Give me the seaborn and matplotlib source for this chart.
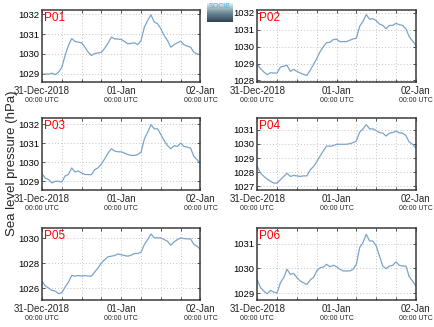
import numpy as np
import pandas as pd
import matplotlib
matplotlib.use("Agg")
import matplotlib.pyplot as plt
import seaborn as sns

# ---- data (hourly, 31-Dec-2018 00:00 UTC to 02-Jan 00:00 UTC) ----
hours = list(range(49))
stations = ["P01", "P02", "P03", "P04", "P05", "P06"]

p01 = [1028.97, 1028.98, 1028.97, 1029.02, 1028.95, 1029.07, 1029.32, 1029.92, 1030.42, 1030.78,
       1030.63, 1030.59, 1030.56, 1030.34, 1030.08, 1029.92, 1030.02, 1030.05, 1030.08, 1030.29,
       1030.54, 1030.85, 1030.76, 1030.75, 1030.73, 1030.63, 1030.51, 1030.53, 1030.56, 1030.47,
       1030.68, 1031.36, 1031.69, 1031.98, 1031.61, 1031.53, 1031.27, 1030.93, 1030.68, 1030.34,
       1030.46, 1030.56, 1030.64, 1030.46, 1030.39, 1030.34, 1030.08, 1030.00, 1029.95]
p02 = [1028.94, 1028.70, 1028.50, 1028.34, 1028.46, 1028.44, 1028.44, 1028.80, 1028.84, 1028.90,
       1028.54, 1028.66, 1028.54, 1028.44, 1028.36, 1028.30, 1028.60, 1028.94, 1029.30, 1029.70,
       1030.00, 1030.24, 1030.26, 1030.42, 1030.44, 1030.30, 1030.30, 1030.30, 1030.38, 1030.46,
       1030.50, 1031.20, 1031.50, 1031.90, 1031.62, 1031.66, 1031.54, 1031.34, 1031.26, 1031.06,
       1031.26, 1031.26, 1031.38, 1031.30, 1031.26, 1031.06, 1030.60, 1030.34, 1030.10]
p03 = [1029.40, 1029.17, 1029.09, 1028.91, 1029.00, 1029.00, 1028.96, 1029.28, 1029.36, 1029.70,
       1029.49, 1029.54, 1029.43, 1029.36, 1029.35, 1029.35, 1029.61, 1029.71, 1029.92, 1030.18,
       1030.48, 1030.71, 1030.59, 1030.55, 1030.55, 1030.48, 1030.41, 1030.36, 1030.36, 1030.41,
       1030.53, 1031.23, 1031.58, 1031.98, 1031.76, 1031.76, 1031.46, 1031.14, 1030.88, 1030.71,
       1030.87, 1030.83, 1031.01, 1030.83, 1030.80, 1030.74, 1030.31, 1030.13, 1029.92]
p04 = [1028.40, 1027.93, 1027.70, 1027.51, 1027.35, 1027.23, 1027.23, 1027.47, 1027.70, 1027.93,
       1027.70, 1027.77, 1027.74, 1027.70, 1027.74, 1027.74, 1028.16, 1028.40, 1028.74, 1029.14,
       1029.51, 1029.86, 1029.84, 1029.88, 1029.98, 1029.98, 1029.98, 1029.98, 1030.02, 1030.09,
       1030.21, 1030.84, 1031.07, 1031.37, 1031.07, 1031.07, 1030.95, 1030.81, 1030.77, 1030.56,
       1030.77, 1030.81, 1030.91, 1030.79, 1030.77, 1030.60, 1030.14, 1029.98, 1029.72]
p05 = [1026.58, 1026.19, 1026.03, 1025.84, 1025.79, 1025.58, 1025.66, 1026.11, 1026.50, 1027.03,
       1026.98, 1027.03, 1026.98, 1027.03, 1026.98, 1026.98, 1027.32, 1027.64, 1028.04, 1028.30,
       1028.52, 1028.57, 1028.62, 1028.75, 1028.68, 1028.62, 1028.57, 1028.65, 1028.78, 1028.78,
       1028.89, 1029.50, 1029.89, 1030.34, 1030.03, 1030.03, 1030.03, 1029.89, 1029.76, 1029.44,
       1029.71, 1029.89, 1030.03, 1029.97, 1029.95, 1029.95, 1029.50, 1029.36, 1029.10]
p06 = [1029.53, 1029.22, 1029.08, 1028.97, 1029.11, 1029.04, 1029.01, 1029.42, 1029.63, 1029.97,
       1029.76, 1029.80, 1029.63, 1029.49, 1029.42, 1029.35, 1029.53, 1029.63, 1029.90, 1030.03,
       1030.06, 1030.17, 1030.07, 1030.13, 1030.07, 1029.97, 1029.90, 1029.90, 1029.90, 1029.97,
       1030.17, 1030.85, 1031.05, 1031.39, 1031.12, 1031.12, 1030.92, 1030.51, 1030.10, 1029.99,
       1030.10, 1030.13, 1030.27, 1030.13, 1030.10, 1030.10, 1029.67, 1029.49, 1029.29]
series = [p01, p02, p03, p04, p05, p06]

y_limits = [(1028.6, 1032.25), (1027.94, 1032.2), (1028.54, 1032.33),
            (1026.74, 1031.84), (1025.1, 1030.84), (1028.73, 1031.66)]
y_ticks = [[1029, 1030, 1031, 1032], [1028, 1029, 1030, 1031, 1032],
           [1029, 1030, 1031, 1032], [1027, 1028, 1029, 1030, 1031],
           [1026, 1028, 1030], [1029, 1030, 1031]]
x_tick_hours = [0, 24, 48]
x_tick_labels = ["31-Dec-2018", "01-Jan", "02-Jan"]
x_sub_label = "00:00 UTC"
minor_hours = list(range(0, 49, 6))

# ---- style ----
sns.set_style("white")
plt.rcParams["font.family"] = ["Liberation Sans", "DejaVu Sans"]

W, H = 435, 327
fig = plt.figure(figsize=(W / 100, H / 100), dpi=100)

lefts = [42, 257.3]
tops = [9.5, 118, 227.7]
aw, ah = 158.5, 72

line_color = "#7aa4cb"
spine_color = "#3a3a3a"

for i, (name, vals) in enumerate(zip(stations, series)):
    r, c = divmod(i, 2)
    l = lefts[c]
    t = tops[r]
    ax = fig.add_axes([l / W, 1 - (t + ah) / H, aw / W, ah / H])
    df = pd.DataFrame({"hour": hours, "slp": vals})
    sns.lineplot(data=df, x="hour", y="slp", ax=ax, color=line_color, lw=0.9)
    ax.set_xlim(0, 48)
    ax.set_ylim(*y_limits[i])
    ax.set_yticks(y_ticks[i])
    ax.set_yticklabels([str(v) for v in y_ticks[i]], fontsize=6.8)
    ax.set_xticks(minor_hours)
    ax.set_xticklabels([])
    for xv, lab in zip(x_tick_hours, x_tick_labels):
        ax.text(xv, -0.06, lab, transform=ax.get_xaxis_transform(),
                ha="center", va="top", fontsize=7)
        ax.text(xv, -0.21, x_sub_label, transform=ax.get_xaxis_transform(),
                ha="center", va="top", fontsize=5)
    ax.grid(True, color="#c4c4c4", lw=0.7, linestyle=(0, (1, 2.2)))
    ax.tick_params(axis="both", direction="in", length=2.5, width=0.6,
                   top=True, right=True, left=True, bottom=True,
                   colors=spine_color, labelcolor="black", pad=2)
    for s in ax.spines.values():
        s.set_color(spine_color)
        s.set_linewidth(1.1)
    ax.set_xlabel("")
    ax.set_ylabel("")
    ax.text(0.012, 0.97, name, transform=ax.transAxes, color="red",
            fontsize=8.5, ha="left", va="top")

fig.text(12 / W, 1 - 163 / H, "Sea level pressure (hPa)", rotation=90,
         ha="center", va="center", fontsize=9.5)

# small logo box
lax = fig.add_axes([207 / W, 1 - 22 / H, 26 / W, 19 / H])
grad = np.linspace(0, 1, 64).reshape(-1, 1)
lax.imshow(grad, aspect="auto",
           cmap=sns.blend_palette(["#e6f0f4", "#6f8c9c", "#2e4452"], as_cmap=True),
           extent=[0, 1, 0, 1], origin="upper")
lax.text(0.5, 0.98, "SOCIB", color="#3cc0d8", fontsize=5, ha="center", va="top",
         transform=lax.transAxes)
lax.set_axis_off()

fig.savefig("out.png", dpi=100)
